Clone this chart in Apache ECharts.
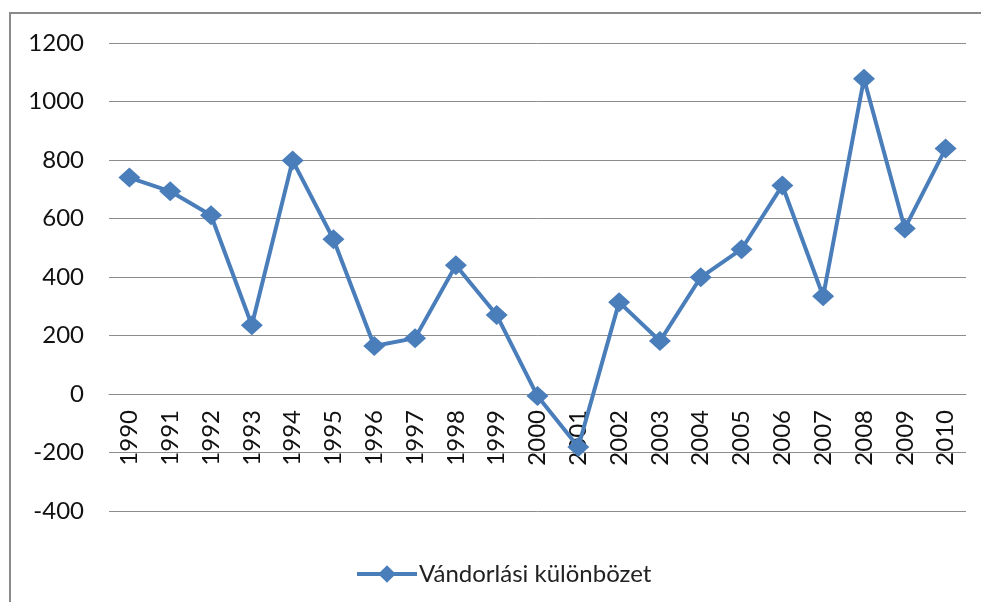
<!DOCTYPE html>
<html>
<head>
<meta charset="utf-8">
<script src="https://cdn.jsdelivr.net/npm/echarts@6/dist/echarts.min.js"></script>
<style>
  html, body { margin: 0; padding: 0; background: #fff; }
  #chart { width: 981px; height: 602px; }
</style>
</head>
<body>
<div id="chart"></div>
<script>
"use strict";

// ── Datos ──────────────────────────────────────────────────────────────────
const years = ["1990","1991","1992","1993","1994","1995","1996","1997","1998","1999",
               "2000","2001","2002","2003","2004","2005","2006","2007","2008","2009","2010"];
const vandorlasi = [740, 693, 611, 235, 798, 529, 164, 191, 440, 270,
                    -7, -181, 314, 181, 399, 495, 713, 334, 1078, 566, 839];
const seriesName = "Vándorlási különbözet";
const yMin = -400, yMax = 1200, yStep = 200;

// ── Estilo ────────────────────────────────────────────────────────────────
const FONT = "Lato, 'Open Sans', sans-serif";
const BLUE = "#4a7ebb";
const GRID_GRAY = "#8c8c8c";
const GRID = { left: 109, right: 15, top: 43, bottom: 91 };

// el eje de categorías cruza en y = 0
const plotH = 602 - GRID.top - GRID.bottom;
const zeroOffset = -Math.round(plotH * (0 - yMin) / (yMax - yMin));

const chart = echarts.init(document.getElementById("chart"), null, { renderer: "canvas" });

chart.setOption({
  animation: false,
  textStyle: { fontFamily: FONT },
  grid: GRID,
  graphic: [{
    type: "polyline",
    shape: { points: [[10, 602], [10, 13], [981, 13]] },
    style: { stroke: "#8a8a8a", lineWidth: 2, fill: null },
    silent: true,
  }],
  legend: {
    data: [seriesName],
    left: 350, top: 557,
    itemWidth: 60, itemHeight: 22,
    itemGap: 4,
    lineStyle: { width: 4 },
    textStyle: { fontFamily: FONT, fontSize: 24, color: "#222", padding: [0, 0, 0, -3] },
  },
  xAxis: {
    type: "category",
    data: years,
    boundaryGap: true,
    position: "bottom",
    offset: zeroOffset,
    axisLine: { onZero: false, lineStyle: { color: GRID_GRAY, width: 1 } },
    axisTick: { show: false },
    axisLabel: {
      rotate: 90, margin: 16, interval: 0,
      fontFamily: FONT, fontSize: 24, color: "#111",
    },
    splitLine: { show: false },
  },
  yAxis: {
    type: "value",
    min: yMin, max: yMax, interval: yStep,
    axisLine: { show: false },
    axisTick: { show: false },
    axisLabel: { margin: 25, fontFamily: FONT, fontSize: 24, color: "#111", formatter: v => String(v) },
    splitLine: { lineStyle: { color: GRID_GRAY, width: 1 } },
  },
  series: [{
    name: seriesName,
    type: "line",
    data: vandorlasi,
    symbol: "diamond",
    symbolSize: [22, 20],
    lineStyle: { color: BLUE, width: 4 },
    itemStyle: { color: BLUE },
  }],
});
</script>
</body>
</html>
